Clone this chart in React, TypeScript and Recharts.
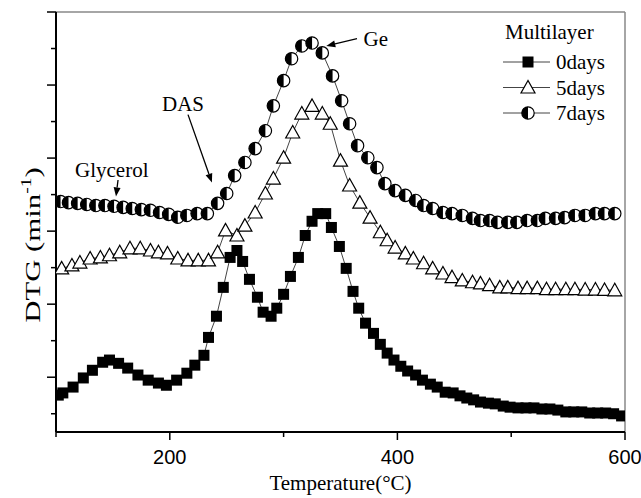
import { LineChart, Line, XAxis, YAxis, Legend, ReferenceLine, ReferenceDot } from 'recharts'

// temperatures (°C) and DTG readings (arbitrary units)
const days0T = [102, 106, 115, 124, 132, 141, 147, 155, 163, 172, 181, 190, 197, 206, 215, 222, 230, 234, 241, 247, 253, 259, 264, 270, 277, 282, 289, 294, 300, 306, 313, 319, 325, 330, 337, 342, 349, 355, 361, 366, 372, 379, 385, 391, 397, 403, 409, 416, 422, 429, 435, 442, 449, 455, 461, 467, 473, 480, 486, 493, 499, 506, 513, 520, 527, 534, 541, 548, 555, 562, 569, 576, 583, 590, 597]
const days0V = [0.51, 0.57, 0.73, 0.98, 1.19, 1.41, 1.47, 1.38, 1.25, 1.06, 0.92, 0.84, 0.78, 0.92, 1.11, 1.33, 1.6, 2.09, 2.67, 3.46, 4.28, 4.47, 4.17, 3.68, 3.19, 2.78, 2.67, 2.89, 3.27, 3.76, 4.28, 4.88, 5.27, 5.48, 5.48, 5.1, 4.58, 3.98, 3.35, 2.89, 2.48, 2.2, 1.9, 1.66, 1.47, 1.3, 1.17, 1.06, 0.92, 0.81, 0.73, 0.59, 0.57, 0.49, 0.43, 0.38, 0.32, 0.29, 0.27, 0.21, 0.18, 0.16, 0.16, 0.16, 0.13, 0.13, 0.1, 0.05, 0.05, 0.05, 0.02, 0.02, 0.02, 0.0, -0.06]

const days5T = [105, 114, 121, 130, 139, 147, 156, 165, 174, 183, 190, 198, 207, 216, 225, 234, 242, 249, 259, 266, 275, 284, 291, 300, 308, 316, 325, 334, 341, 350, 358, 367, 376, 385, 391, 398, 407, 414, 423, 431, 440, 448, 457, 466, 473, 481, 490, 497, 506, 514, 523, 531, 539, 548, 556, 565, 574, 582, 591]
const days5V = [3.98, 4.06, 4.14, 4.25, 4.28, 4.34, 4.42, 4.53, 4.53, 4.47, 4.42, 4.39, 4.25, 4.2, 4.2, 4.2, 4.42, 5.02, 4.88, 5.15, 5.51, 6.03, 6.44, 7.01, 7.7, 8.22, 8.43, 8.22, 7.94, 6.93, 6.25, 5.78, 5.37, 4.97, 4.75, 4.55, 4.39, 4.25, 4.12, 3.98, 3.84, 3.74, 3.65, 3.6, 3.57, 3.52, 3.46, 3.46, 3.44, 3.44, 3.44, 3.41, 3.41, 3.41, 3.41, 3.4, 3.4, 3.39, 3.38]

const days7T = [104, 111, 119, 127, 135, 143, 151, 159, 167, 175, 183, 191, 199, 207, 215, 224, 233, 242, 250, 257, 266, 275, 284, 291, 300, 307, 316, 325, 334, 343, 351, 358, 365, 374, 382, 389, 398, 407, 416, 423, 431, 440, 448, 457, 466, 473, 481, 488, 497, 505, 514, 523, 530, 539, 547, 556, 565, 574, 582, 591]
const days7V = [5.81, 5.78, 5.76, 5.73, 5.7, 5.7, 5.68, 5.65, 5.62, 5.59, 5.57, 5.51, 5.46, 5.38, 5.43, 5.48, 5.48, 5.76, 6.03, 6.52, 6.88, 7.26, 7.75, 8.43, 9.12, 9.72, 10.07, 10.15, 9.88, 9.25, 8.57, 7.94, 7.34, 7.01, 6.74, 6.3, 6.11, 5.98, 5.84, 5.7, 5.62, 5.51, 5.48, 5.43, 5.35, 5.29, 5.29, 5.24, 5.24, 5.24, 5.29, 5.29, 5.35, 5.35, 5.37, 5.43, 5.43, 5.48, 5.48, 5.48]

const xTicks = [100, 200, 300, 400, 500, 600]
const xMajor = [200, 400, 600]
const yTicks = [0, 1, 2, 3, 4, 5, 6, 7, 8, 9, 10, 11]

const zip = (ts: number[], vs: number[]) => ts.map((t, i) => ({ t, v: vs[i] }))
const d0 = zip(days0T, days0V)
const d5 = zip(days5T, days5V)
const d7 = zip(days7T, days7V)

const SERIF = 'Liberation Serif, Times New Roman, serif'
const SANS = 'Liberation Sans, Arial, sans-serif'
const LINE = '#444'

function square(cx: number, cy: number, key?: any) {
  return <rect key={key} x={cx - 5.5} y={cy - 5.5} width={11} height={11} fill="#000" />
}
function triangle(cx: number, cy: number, key?: any) {
  return (
    <polygon
      key={key}
      points={`${cx},${cy - 7} ${cx - 7},${cy + 5.5} ${cx + 7},${cy + 5.5}`}
      fill="#fff"
      stroke="#000"
      strokeWidth={1.2}
    />
  )
}
function halfCircle(cx: number, cy: number, key?: any) {
  const r = 6.2
  return (
    <g key={key}>
      <circle cx={cx} cy={cy} r={r} fill="#fff" stroke="#000" strokeWidth={1.2} />
      <path d={`M${cx},${cy - r} A${r},${r} 0 0 0 ${cx},${cy + r} Z`} fill="#000" />
    </g>
  )
}

const markers: Record<string, (cx: number, cy: number, key?: any) => any> = {
  '0days': square,
  '5days': triangle,
  '7days': halfCircle,
}

const dotOf = (fn: (cx: number, cy: number, key?: any) => any) => (p: any) =>
  p.cx == null || p.cy == null ? <g key={p.index} /> : fn(p.cx, p.cy, p.index)

function XTick(p: any) {
  const { x, y, payload } = p
  const major = xMajor.includes(payload.value)
  return (
    <g>
      <line x1={x} y1={y} x2={x} y2={y + (major ? 8 : 5)} stroke="#000" strokeWidth={1.5} />
      {major && (
        <text x={x} y={y + 32} textAnchor="middle" fontSize={20} fill="#000" fontFamily={SANS}>
          {payload.value}
        </text>
      )}
    </g>
  )
}

function YTick(p: any) {
  const { x, y, payload } = p
  const major = payload.value % 2 === 1
  return <line x1={x} y1={y} x2={x - (major ? 9 : 5)} y2={y} stroke="#000" strokeWidth={1.5} />
}

function YLabel(p: any) {
  const { x, y, height } = p.viewBox
  return (
    <text
      transform={`translate(${x + 40},${y + height / 2 + 23}) rotate(-90) scale(1.4,1)`}
      textAnchor="middle"
      fontSize={22}
      fill="#000"
      fontFamily={SERIF}
    >
      DTG (min
      <tspan dy={-9} fontSize={14}>-1</tspan>
      <tspan dy={9}>)</tspan>
    </text>
  )
}

function Arrow(p: any) {
  const { x1, y1, x2, y2 } = p
  const dx = x2 - x1
  const dy = y2 - y1
  const len = Math.hypot(dx, dy) || 1
  const ux = dx / len
  const uy = dy / len
  const hl = 9
  const hw = 3.5
  const bx = x2 - ux * hl
  const by = y2 - uy * hl
  return (
    <g>
      <line x1={x1} y1={y1} x2={bx} y2={by} stroke="#000" strokeWidth={1.3} />
      <polygon points={`${x2},${y2} ${bx - uy * hw},${by + ux * hw} ${bx + uy * hw},${by - ux * hw}`} fill="#000" />
    </g>
  )
}

function renderLegend(props: any) {
  const payload = props.payload || []
  return (
    <svg width={140} height={110} style={{ fontFamily: SERIF, overflow: 'visible' }}>
      <text x={7} y={25} fontSize={21} fill="#000" fontFamily={SERIF}>
        Multilayer
      </text>
      {payload.map((e: any, i: number) => {
        const cy = 48 + i * 25.5
        const fn = markers[e.value]
        return (
          <g key={e.value}>
            <line x1={5} y1={cy} x2={52} y2={cy} stroke={LINE} strokeWidth={1} />
            {fn && fn(30, cy)}
            <text x={58} y={cy + 7} fontSize={21} fill="#000" fontFamily={SERIF}>
              {e.value}
            </text>
          </g>
        )
      })}
    </svg>
  )
}

const annText = { fontSize: 21, fill: '#000', fontFamily: SERIF }

export default function App() {
  return (
    <div style={{ position: 'absolute', left: 0, top: 0 }}>
      <LineChart width={641} height={498} margin={{ top: 12, right: 16, bottom: 0, left: 0 }} style={{ fontFamily: SERIF }}>
        <XAxis
          dataKey="t"
          type="number"
          domain={[100, 600]}
          ticks={xTicks}
          interval={0}
          allowDataOverflow
          tick={XTick}
          tickLine={false}
          tickSize={0}
          tickMargin={0}
          height={66}
          axisLine={{ stroke: '#000', strokeWidth: 2 }}
          label={{ value: 'Temperature(°C)', position: 'insideBottom', offset: 8, fontSize: 21, fill: '#000', fontFamily: SERIF }}
        />
        <YAxis
          type="number"
          domain={[-0.5, 11]}
          ticks={yTicks}
          interval={0}
          allowDataOverflow
          tick={YTick}
          tickLine={false}
          tickSize={0}
          tickMargin={0}
          width={56}
          axisLine={{ stroke: '#000', strokeWidth: 2 }}
          label={YLabel}
        />
        <ReferenceLine y={11} stroke="#888" strokeWidth={1.5} />
        <ReferenceLine x={600} stroke="#888" strokeWidth={1.5} />
        <Line data={d0} dataKey="v" name="0days" stroke={LINE} strokeWidth={1} dot={dotOf(square)} activeDot={false} isAnimationActive={false} />
        <Line data={d5} dataKey="v" name="5days" stroke={LINE} strokeWidth={1} dot={dotOf(triangle)} activeDot={false} isAnimationActive={false} />
        <Line data={d7} dataKey="v" name="7days" stroke={LINE} strokeWidth={1} dot={dotOf(halfCircle)} activeDot={false} isAnimationActive={false} />
        <ReferenceLine segment={[{ x: 154.5, y: 6.4 }, { x: 152.7, y: 5.95 }]} shape={Arrow} />
        <ReferenceLine segment={[{ x: 216, y: 8.19 }, { x: 237, y: 6.33 }]} shape={Arrow} />
        <ReferenceLine segment={[{ x: 364.5, y: 10.27 }, { x: 337.5, y: 10.07 }]} shape={Arrow} />
        <ReferenceDot x={149} y={6.68} r={0} fill="none" stroke="none" label={{ value: 'Glycerol', position: 'center', ...annText }} />
        <ReferenceDot x={211.6} y={8.49} r={0} fill="none" stroke="none" label={{ value: 'DAS', position: 'center', ...annText }} />
        <ReferenceDot x={381} y={10.27} r={0} fill="none" stroke="none" label={{ value: 'Ge', position: 'center', ...annText }} />
        <Legend
          content={renderLegend}
          layout="horizontal"
          align="center"
          verticalAlign="middle"
          wrapperStyle={{ left: 498, top: 14, width: 140, height: 110 }}
        />
      </LineChart>
    </div>
  )
}
